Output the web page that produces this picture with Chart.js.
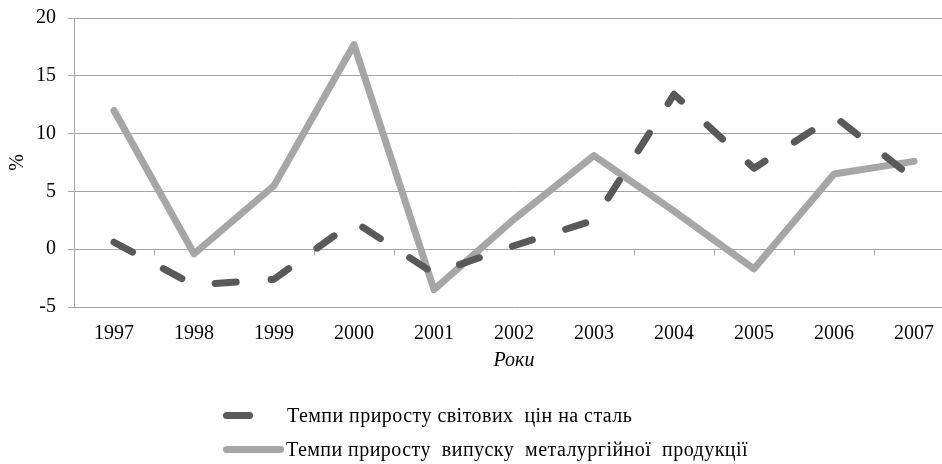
<!DOCTYPE html>
<html>
<head>
<meta charset="utf-8">
<script src="https://cdn.jsdelivr.net/npm/chart.js@4/dist/chart.umd.min.js"></script>
<style>
    html, body { margin: 0; padding: 0; background: #fff; overflow: hidden; }
    #wrap { position: relative; width: 954px; height: 464px; }
    .legend-row { position: absolute; left: 223px; height: 24px; display: flex; align-items: center;
                  font-family: "Liberation Serif", serif; font-size: 20px; letter-spacing: 0.45px;
                  color: #000; white-space: pre; }
    .legend-line { height: 7px; border-radius: 4px; }
</style>
</head>
<body>
<div id="wrap">
    <canvas id="chart"></canvas>
    <div class="legend-row" style="top: 403px;">
        <div class="legend-line" style="width: 30px; background: #595959; margin-right: 34px;"></div>
        <span id="lbl1"></span>
    </div>
    <div class="legend-row" style="top: 437px;">
        <div class="legend-line" style="width: 61px; background: #a6a6a6; margin-right: 2px;"></div>
        <span id="lbl2"></span>
    </div>
</div>
<script>
// years on the x axis
var years = ['1997', '1998', '1999', '2000', '2001', '2002', '2003', '2004', '2005', '2006', '2007'];

// growth of world steel prices, %
var steelPrice = [0.6, -3.1, -2.6, 2.4, -2.1, 0.3, 2.5, 13.4, 7.0, 11.5, 6.1];

// growth of metallurgical output, %
var metalOutput = [12.0, -0.4, 5.5, 17.7, -3.5, 2.6, 8.1, 3.3, -1.7, 6.5, 7.6];

var seriesNames = ['Темпи приросту світових  цін на сталь', 'Темпи приросту  випуску  металургійної  продукції'];

document.getElementById('lbl1').textContent = seriesNames[0];
document.getElementById('lbl2').textContent = seriesNames[1];

var gridColor = '#a6a6a6';
var font = { family: '"Liberation Serif", serif', size: 20 };

// small tick marks on the zero line between the years
var zeroTicks = {
    id: 'zeroTicks',
    beforeDatasetsDraw: function (chart) {
        var ctx = chart.ctx;
        var x = chart.scales.x;
        var y0 = chart.scales.y.getPixelForValue(0);
        var step = x.getPixelForValue(1) - x.getPixelForValue(0);
        ctx.save();
        ctx.strokeStyle = gridColor;
        ctx.lineWidth = 1;
        for (var i = 0; i < years.length; i++) {
            var px = Math.round(x.getPixelForValue(i) + step / 2) + 0.5;
            ctx.beginPath();
            ctx.moveTo(px, y0);
            ctx.lineTo(px, y0 + 6);
            ctx.stroke();
        }
        ctx.restore();
    }
};

var chartConfig = {
    type: 'line',
    data: {
        labels: years,
        datasets: [{
            label: seriesNames[0],
            data: steelPrice,
            borderColor: '#595959',
            borderWidth: 7,
            borderDash: [21, 35],
            borderCapStyle: 'round',
            borderJoinStyle: 'round',
            pointRadius: 0,
            tension: 0,
            fill: false
        }, {
            label: seriesNames[1],
            data: metalOutput,
            borderColor: '#a6a6a6',
            borderWidth: 7,
            borderCapStyle: 'round',
            borderJoinStyle: 'round',
            pointRadius: 0,
            tension: 0,
            fill: false
        }]
    },
    options: {
        responsive: false,
        animation: false,
        devicePixelRatio: 1,
        layout: { padding: { top: 18, right: 0, bottom: 87, left: 0 } },
        plugins: {
            legend: { display: false },
            tooltip: { enabled: false }
        },
        scales: {
            x: {
                offset: true,
                grid: { display: false, drawTicks: false },
                border: { display: false },
                ticks: { color: '#000', font: font, padding: 15, autoSkip: false, maxRotation: 0 },
                title: { display: true, text: 'Роки', color: '#000',
                         font: { family: '"Liberation Serif", serif', size: 20, style: 'italic' },
                         padding: { top: 0, bottom: 4 } },
                afterFit: function (scale) { scale.height = 70; }
            },
            y: {
                min: -5,
                max: 20,
                ticks: { stepSize: 5, color: '#000', padding: 12,
                         font: { family: '"Liberation Serif", serif', size: 20, lineHeight: 1 } },
                grid: { color: gridColor, lineWidth: 1, tickLength: 6 },
                border: { display: true, color: gridColor, width: 1 },
                title: { display: true, text: '%', color: '#000', font: font, padding: { top: 6, bottom: 0 } },
                afterFit: function (scale) { scale.width = 74; scale.paddingTop = 0; scale.paddingBottom = 0; }
            }
        }
    },
    plugins: [zeroTicks]
};

var chartEl = document.getElementById('chart');
chartEl.width = 954;
chartEl.height = 464;
chartEl.setAttribute('style', 'display: block;');
new Chart(chartEl.getContext('2d'), chartConfig);
</script>
</body>
</html>
